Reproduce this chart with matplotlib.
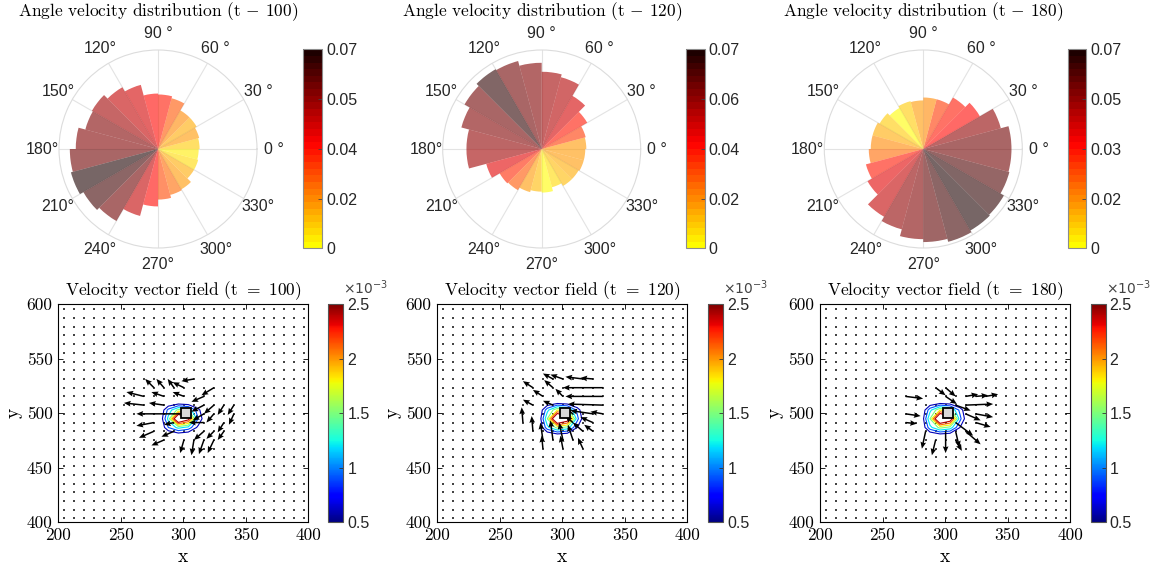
import numpy as np
import matplotlib
matplotlib.use("Agg")
import matplotlib.pyplot as plt
from matplotlib.colors import ListedColormap, Normalize
from matplotlib.cm import ScalarMappable

plt.rcParams['mathtext.fontset'] = 'cm'
plt.rcParams['axes.unicode_minus'] = False

# ---------------- data ----------------
times = [100, 120, 180]
bin_width_deg = 15
bin_start_deg = np.arange(0, 360, 15)

# polar histogram heights (probability) per 15 deg bin, starting at 0 deg
hist_t100 = [0.0315, 0.0323, 0.0338, 0.0338, 0.0398, 0.0413, 0.0420, 0.0503,
             0.0540, 0.0578, 0.0570, 0.0623, 0.0668, 0.0683, 0.0653, 0.0630,
             0.0525, 0.0435, 0.0383, 0.0360, 0.0353, 0.0315, 0.0315, 0.0308]
hist_t120 = [0.0338, 0.0345, 0.0398, 0.0465, 0.0563, 0.0585, 0.0653, 0.0690,
             0.0698, 0.0675, 0.0630, 0.0570, 0.0570, 0.0435, 0.0368, 0.0360,
             0.0338, 0.0323, 0.0330, 0.0300, 0.0323, 0.0323, 0.0330, 0.0330]
hist_t180 = [0.0668, 0.0608, 0.0495, 0.0450, 0.0390, 0.0390, 0.0368, 0.0375,
             0.0360, 0.0383, 0.0398, 0.0398, 0.0413, 0.0450, 0.0488, 0.0593,
             0.0630, 0.0683, 0.0705, 0.0728, 0.0713, 0.0705, 0.0675, 0.0668]

# colour value of each bar (colorbar units)
cval_t100 = [0.008, 0.015, 0.012, 0.018, 0.025, 0.033, 0.036, 0.042,
             0.046, 0.050, 0.055, 0.055, 0.058, 0.068, 0.064, 0.057,
             0.045, 0.037, 0.027, 0.022, 0.015, 0.012, 0.006, 0.003]
cval_t120 = [0.015, 0.030, 0.035, 0.045, 0.050, 0.052, 0.057, 0.060,
             0.070, 0.060, 0.057, 0.054, 0.052, 0.042, 0.033, 0.025,
             0.016, 0.010, 0.002, 0.006, 0.010, 0.013, 0.016, 0.016]
cval_t180 = [0.055, 0.050, 0.035, 0.032, 0.028, 0.018, 0.014, 0.008,
             0.002, 0.007, 0.013, 0.016, 0.022, 0.032, 0.040, 0.045,
             0.050, 0.053, 0.058, 0.063, 0.068, 0.064, 0.060, 0.056]
cbar_max = [0.07, 0.0735, 0.068]
r_max = 0.075

theta_tick_deg = [0, 30, 60, 90, 120, 150, 180, 210, 240, 270, 300, 330]
theta_tick_lbl = ['0 °', '30 °', '60 °', '90 °', '120°', '150°', '180°',
                  '210°', '240°', '270°', '300°', '330°']

# quiver arrows: tail x, tail y, u, v
q100_x = [276.5, 284.5, 292.5, 300.5, 308.5, 268.5, 284.5, 300.5, 316.5, 324.5,
          268.5, 284.5, 316.5, 324.5, 332.5, 300.5, 316.5, 324.5, 340.5, 340.5,
          276.5, 292.5, 316.5, 332.5, 276.5, 292.5, 316.5, 324.5, 332.5,
          300.5, 308.5, 316.5, 324.5, 284.5]
q100_y = [523.5, 523.5, 523.5, 523.5, 531.5, 515.5, 515.5, 515.5, 515.5, 523.5,
          507.5, 507.5, 507.5, 507.5, 507.5, 499.5, 499.5, 499.5, 507.5, 499.5,
          491.5, 491.5, 491.5, 491.5, 483.5, 483.5, 483.5, 483.5, 483.5,
          475.5, 475.5, 475.5, 475.5, 475.5]
q100_u = [-7, -6, -5, -9, -10, -14, -10, -9, -10, -10,
          -16, -12, -10, -8, -5, -38, -9, -6, -5, -4,
          -14, -8, -12, -5, -12, -10, -8, -6, -5,
          -3, -2, -4, -5, -10]
q100_v = [8, 8, 8, 5, -2, 4, 4, 4, -5, -7,
          2, 2, -6, -8, -9, 0, -6, -8, -9, -10,
          -3, -2, 0, -9, -6, -5, -8, -7, -8,
          -12, -14, -13, -12, -5]

q120_x = [292.5, 300.5, 316.5, 324.5, 276.5, 292.5, 332.5, 284.5, 300.5, 332.5,
          276.5, 292.5, 332.5, 308.5, 324.5, 332.5, 268.5, 308.5, 324.5,
          276.5, 316.5, 324.5, 284.5, 292.5, 300.5, 308.5, 284.5, 300.5, 316.5]
q120_y = [531.5, 531.5, 531.5, 531.5, 523.5, 523.5, 523.5, 515.5, 515.5, 515.5,
          507.5, 507.5, 507.5, 499.5, 499.5, 499.5, 491.5, 491.5, 491.5,
          483.5, 483.5, 483.5, 475.5, 475.5, 475.5, 475.5, 467.5, 467.5, 467.5]
q120_u = [-8, -10, -14, -10, -8, -7, -32, -8, -6, -30,
          -8, -8, -28, -6, -18, -10, -1, -6, -10,
          -1, -8, -7, -2, -2, -3, -4, -1, -2, -4]
q120_v = [5, 4, 2, 1, 6, 7, 0, 6, 7, 0,
          5, 4, 1, 5, 3, 2, 14, 6, 5,
          14, 8, 6, 16, 18, 16, 14, 12, 12, 10]

q180_x = [292.5, 300.5, 268.5, 300.5, 316.5, 324.5, 332.5, 308.5, 316.5,
          268.5, 316.5, 324.5, 268.5, 308.5, 324.5, 284.5, 300.5, 308.5, 316.5,
          292.5, 308.5]
q180_y = [523.5, 523.5, 515.5, 515.5, 515.5, 515.5, 515.5, 507.5, 507.5,
          499.5, 499.5, 499.5, 491.5, 491.5, 491.5, 483.5, 483.5, 483.5, 483.5,
          475.5, 475.5]
q180_u = [8, 8, 14, 9, 10, 10, 10, 12, 22,
          12, 12, 14, 9, 14, 12, -3, 0, 3, 12,
          -3, 5]
q180_v = [-7, -8, -2, -7, 2, 1, 2, -5, 1,
          -2, -6, -3, -1, -12, -4, -16, -20, -15, -12,
          -14, -10]

# concentration field (x1e-3) on a coarse grid around the source
conc_x = [280, 288, 296, 304, 312, 320]
conc_y = [479, 487, 495, 503, 511]
conc_t100 = [[0.05, 0.10, 0.20, 0.15, 0.10, 0.05],
             [0.10, 0.90, 1.30, 1.10, 0.50, 0.05],
             [0.10, 1.30, 3.20, 2.60, 0.90, 0.10],
             [0.10, 1.00, 1.60, 1.43, 0.70, 0.05],
             [0.05, 0.10, 0.15, 0.10, 0.05, 0.00]]
conc_t120 = [[0.05, 0.15, 0.25, 0.20, 0.10, 0.05],
             [0.10, 1.10, 1.60, 1.40, 0.60, 0.05],
             [0.10, 1.50, 3.30, 2.80, 1.00, 0.10],
             [0.10, 1.10, 1.80, 1.60, 0.80, 0.05],
             [0.05, 0.15, 0.20, 0.15, 0.05, 0.00]]
conc_t180 = [[0.05, 0.15, 0.25, 0.20, 0.10, 0.05],
             [0.10, 1.10, 1.60, 1.40, 0.60, 0.05],
             [0.10, 1.50, 3.30, 2.80, 1.00, 0.10],
             [0.10, 1.10, 1.80, 1.60, 0.80, 0.05],
             [0.05, 0.15, 0.20, 0.15, 0.05, 0.00]]
conc_levels = [0.6, 0.9, 1.2, 1.5, 1.8, 2.1, 2.4]
source_xy = (302, 500.5)

# ---------------- figure ----------------
W, H = 1156, 572
fig = plt.figure(figsize=(W / 100, H / 100), dpi=100)


def ax_px(l, t, w, h, **kw):
    return fig.add_axes([l / W, 1 - (t + h) / H, w / W, h / H], **kw)


SANS = 'Liberation Sans'
SERIF = 'cmr10'

hot_cmap = ListedColormap(plt.cm.hot(np.linspace(0.74, 0.03, 30)))

hists = [hist_t100, hist_t120, hist_t180]
cvals = [cval_t100, cval_t120, cval_t180]
polar_centers = [158, 541.7, 923.3]
polar_cbar_left = [303.3, 686.0, 1067.7]
R = 99

for k in range(3):
    cx = polar_centers[k]
    ax = ax_px(cx - R, 149 - R, 2 * R, 2 * R, projection='polar')
    norm = Normalize(0, cbar_max[k])
    cols = hot_cmap(norm(np.array(cvals[k])))
    th = np.deg2rad(bin_start_deg + bin_width_deg / 2)
    ax.set_axisbelow(True)
    ax.bar(th, hists[k], width=np.deg2rad(bin_width_deg), color=cols,
           alpha=0.6, edgecolor='none', zorder=2)
    ax.set_ylim(0, r_max)
    ax.set_yticks([])
    ax.set_thetagrids(theta_tick_deg, theta_tick_lbl)
    ax.tick_params(axis='x', pad=1.5, labelsize=11.5, labelcolor='#262626')
    for lab in ax.get_xticklabels():
        lab.set_fontfamily(SANS)
    ax.grid(True, color='#e3e3e3', lw=0.8)
    ax.spines['polar'].set_color('#dcdcdc')
    ax.spines['polar'].set_linewidth(0.8)
    fig.text(cx / W, 1 - 12 / H,
             'Angle velocity distribution (t $-$ %d)' % times[k],
             ha='center', va='center', fontsize=12.5, fontfamily=SERIF)
    cax = ax_px(polar_cbar_left[k], 49.3, 18.5, 199)
    sm = ScalarMappable(norm=Normalize(0, cbar_max[k]), cmap=hot_cmap)
    tks = np.linspace(0, cbar_max[k], 5)
    cb = fig.colorbar(sm, cax=cax)
    cb.set_ticks(tks, labels=['0'] + ['%.2f' % t for t in tks[1:]])
    cb.outline.set_edgecolor('#8c8c8c')
    cb.outline.set_linewidth(0.8)
    cb.ax.tick_params(direction='in', length=3, width=0.6, color='#444444',
                      labelsize=11.5, labelcolor='#262626', pad=3)
    for lab in cb.ax.get_yticklabels():
        lab.set_fontfamily(SANS)

# ---------------- quiver panels ----------------
gx = 204.5 + 8 * np.arange(25)
gy = 403.5 + 8 * np.arange(25)
GX, GY = np.meshgrid(gx, gy)

quivers = [(q100_x, q100_y, q100_u, q100_v),
           (q120_x, q120_y, q120_u, q120_v),
           (q180_x, q180_y, q180_u, q180_v)]
concs = [conc_t100, conc_t120, conc_t180]
q_left = [58.3, 437.3, 820.0]
q_cbar_left = [328.3, 708.3, 1090.5]

for k in range(3):
    ax = ax_px(q_left[k], 304.3, 250, 218)
    ax.set_xlim(200, 400)
    ax.set_ylim(400, 600)
    ax.scatter(GX.ravel(), GY.ravel(), s=0.9, c='#444444', marker='s',
               linewidths=0, zorder=1)
    ax.contour(conc_x, conc_y, np.array(concs[k]), levels=conc_levels,
               cmap='jet', norm=Normalize(0.5, 2.5), linewidths=0.8, zorder=2)
    qx, qy, qu, qv = quivers[k]
    ax.quiver(qx, qy, qu, qv, angles='xy', scale_units='xy', scale=1,
              width=0.006, headwidth=3.8, headlength=4.5, headaxislength=4.0,
              color='k', zorder=3)
    ax.plot(source_xy[0], source_xy[1], 's', ms=6.5, mfc='#d9d9d9', mec='k',
            mew=1.3, zorder=4)
    ax.set_xticks([200, 250, 300, 350, 400])
    ax.set_yticks([400, 450, 500, 550, 600])
    ax.tick_params(direction='in', top=True, right=True, length=3.5, width=0.6,
                   labelsize=12.5, pad=4)
    for lab in ax.get_xticklabels() + ax.get_yticklabels():
        lab.set_fontfamily(SERIF)
    for s in ax.spines.values():
        s.set_linewidth(0.8)
    cxm = q_left[k] + 125
    fig.text(cxm / W, 1 - 291 / H,
             'Velocity vector field (t $=$ %d)' % times[k],
             ha='center', va='center', fontsize=12.5, fontfamily=SERIF)
    fig.text(cxm / W, 1 - 557 / H, 'x', ha='center', va='center',
             fontsize=14, fontfamily=SERIF)
    fig.text((q_left[k] - 45) / W, 1 - 413 / H, 'y', ha='center', va='center',
             fontsize=14, fontfamily=SERIF, rotation=90)

    cax = ax_px(q_cbar_left[k], 304.3, 15, 218)
    sm = ScalarMappable(norm=Normalize(0.5, 2.5), cmap='jet')
    cb = fig.colorbar(sm, cax=cax)
    cb.set_ticks([0.5, 1, 1.5, 2, 2.5], labels=['0.5', '1', '1.5', '2', '2.5'])
    cb.outline.set_edgecolor('#555555')
    cb.outline.set_linewidth(0.8)
    cb.ax.tick_params(direction='in', length=3, width=0.6, color='#333333',
                      labelsize=11.5, labelcolor='#262626', pad=3)
    for lab in cb.ax.get_yticklabels():
        lab.set_fontfamily(SANS)
    fig.text((q_cbar_left[k] + 15) / W, 1 - 288 / H, r'$\times10^{-3}$',
             ha='left', va='center', fontsize=10, color='#444444',
             math_fontfamily='dejavusans')

fig.savefig('out.png', dpi=100)
